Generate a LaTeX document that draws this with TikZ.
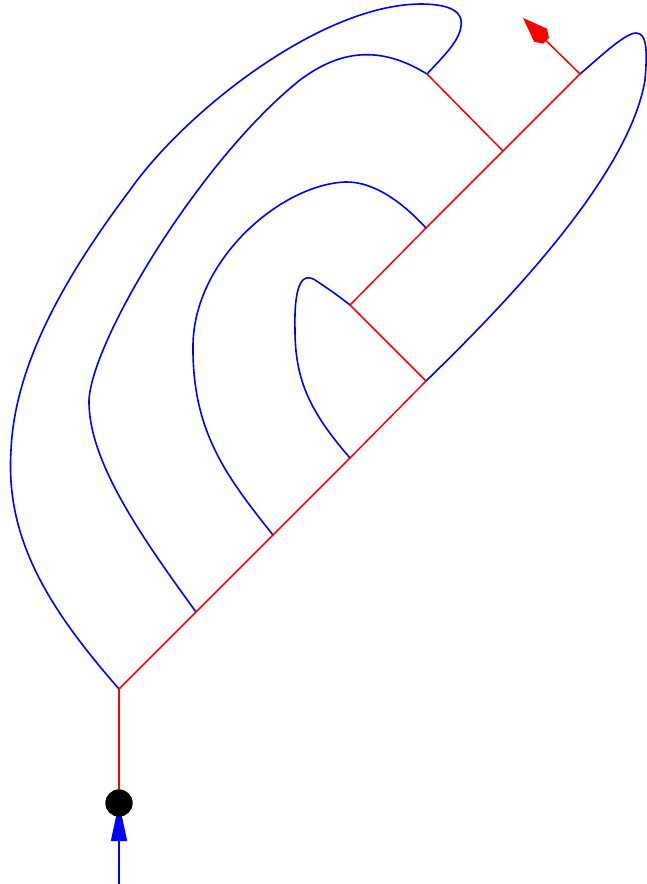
\documentclass[tikz,border=0pt]{standalone}
\usetikzlibrary{calc}
\begin{document}
\begin{tikzpicture}[x=1pt,y=-1pt,
  bwire/.style={blue, line width=1.6pt, line join=round, line cap=round},
  rwire/.style={red, line width=1.5pt, line join=round, line cap=round}]
\useasboundingbox (0,0) rectangle (646,884);
% junctions
\coordinate (J0) at (119,689);
\coordinate (J1) at (196,612);
\coordinate (J2) at (273,535);
\coordinate (J3) at (350,458);
\coordinate (J4) at (426,381);
\coordinate (J5) at (350,305);
\coordinate (J6) at (426,228);
\coordinate (J7) at (503,151);
\coordinate (J8) at (580,74);
\coordinate (J9) at (427,74);
\coordinate (T) at (523,18);
\coordinate (B) at (119,884);
\coordinate (AB) at (119,841);
% blue curves
\draw[bwire] (J0) .. controls (50,610) and (5,540) .. (11,450)
  .. controls (15,360) and (70,270) .. (130,190)
  .. controls (185,112) and (320,5) .. (420,4)
  .. controls (455,4) and (468,14) .. (458,36)
  .. controls (453,47) and (440,60) .. (J9);
\draw[bwire] (J1) .. controls (140,535) and (88,460) .. (89,400)
  .. controls (92,340) and (200,160) .. (300,80)
  .. controls (340,50) and (380,45) .. (J9);
\draw[bwire] (J2) .. controls (225,475) and (192,430) .. (193,345)
  .. controls (194,260) and (280,185) .. (345,182)
  .. controls (375,181) and (405,205) .. (J6);
\draw[bwire] (J3) .. controls (310,412) and (295,380) .. (295,330)
  .. controls (294,290) and (300,268) .. (318,282)
  .. controls (330,290) and (340,297) .. (J5);
\draw[bwire] (J4) .. controls (520,290) and (630,170) .. (645,80)
  .. controls (647,55) and (648,33) .. (636,33)
  .. controls (625,33) and (600,57) .. (J8);
% red tree
\draw[rwire] (J0) -- (J1) -- (J2) -- (J3) -- (J4) -- (J5) -- (J6) -- (J7) -- (J8);
\draw[rwire] (J7) -- (J9);
\draw[rwire] (J8) -- ($(T)!30pt!(J8)$);
\fill[red] (T) -- ($($(T)!24.7pt!(J8)$)!9.2pt!90:(J8)$) -- ($($(T)!32.5pt!(J8)$)!4pt!90:(J8)$) -- ($($(T)!32.5pt!(J8)$)!4pt!-90:(J8)$) -- ($($(T)!24.7pt!(J8)$)!9.2pt!-90:(J8)$) -- cycle;
% bottom
\node[circle, fill=black, inner sep=0pt, minimum size=27pt] (dot) at (119,803) {};
\draw[rwire] (J0) -- (dot.center);
\draw[bwire] (B) -- (AB);
\fill[blue] (dot.center) -- ($(AB)+(-8.2,0)$) -- ($(AB)+(8.2,0)$) -- cycle;
\node[circle, fill=black, inner sep=0pt, minimum size=27pt] at (dot.center) {};
\end{tikzpicture}
\end{document}
